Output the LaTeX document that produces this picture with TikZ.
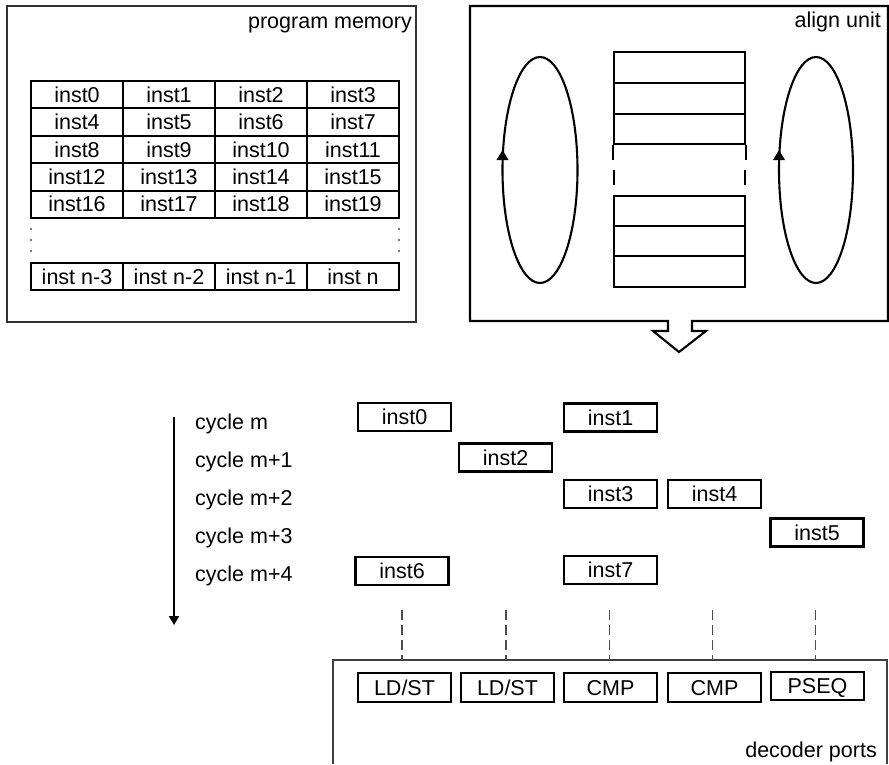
\documentclass[tikz,border=0pt]{standalone}
\usepackage{fontspec}
\setmainfont{Liberation Sans}
\usetikzlibrary{arrows.meta}
\begin{document}
\begin{tikzpicture}[x=1pt,y=-1pt,
  font=\fontsize{21.5}{25}\selectfont,
  cell/.style={draw, line width=2.1pt, minimum width=92pt, minimum height=27.4pt,
    inner sep=0pt, text height=15.3pt, text depth=0pt},
  ibox/.style={draw, line width=2.5pt, minimum width=93pt, minimum height=28pt,
    inner sep=0pt, text height=15.3pt, text depth=0pt},
  stackcell/.style={draw, line width=2.1pt, minimum width=131pt, inner sep=0pt},
  frame/.style={draw=black!80, line width=1.8pt},
  lbl/.style={inner sep=0pt, text depth=0pt},
  port/.style={dashed, dash pattern=on 10pt off 5pt, draw=black!70, line width=1.7pt},
  loop/.style={line width=2.1pt}
]
\useasboundingbox (0,0) rectangle (889,764);

% ---------- program memory ----------
\node[frame, minimum width=409pt, minimum height=316pt, inner sep=0pt] (pm) at (211.5,164) {};
\node[lbl, anchor=base east] (pmlabel) at (412,28) {program memory};
\foreach \r in {0,...,4}{
  \foreach \c in {0,...,3}{
    \pgfmathtruncatemacro\k{4*\r+\c}
    \node[cell] (m\k) at ({77+92*\c},{94.7+27.4*\r}) {inst\k};
  }
}
\node[cell] (mn3) at (77,276.5) {inst n-3};
\node[cell] (mn2) at (169,276.5) {inst n-2};
\node[cell] (mn1) at (261,276.5) {inst n-1};
\node[cell] (mn0) at (353,276.5) {inst n};
\foreach \yy in {229,240,251}{
  \fill[black!70] (31,\yy) circle (1.1pt);
  \fill[black!70] (399,\yy) circle (1.1pt);
}

% ---------- align unit ----------
\draw[line width=2.1pt, line join=miter]
  (692,321) -- (888,321) -- (888,6) -- (470,6) -- (470,321) -- (668,321)
  -- (668,331) -- (653,331) -- (679,352) -- (706,331) -- (692,331) -- cycle;
\node[lbl, anchor=base east] (aulabel) at (881,27) {align unit};

\node[stackcell, minimum height=31pt] (s1) at (679.5,67.5) {};
\node[stackcell, minimum height=31pt] (s2) at (679.5,98.5) {};
\node[stackcell, minimum height=30pt] (s3) at (679.5,129) {};
\node[stackcell, minimum height=30pt] (s4) at (679.5,211) {};
\node[stackcell, minimum height=30pt] (s5) at (679.5,241) {};
\node[stackcell, minimum height=31pt] (s6) at (679.5,271.5) {};
\draw[line width=2.1pt] (s3.south west) -- ++(0,15) (s3.south east) -- ++(0,15);
\draw[line width=2.1pt] (614,170) -- (614,185) (745,170) -- (745,185);

\draw[loop] (540,170) ellipse [x radius=37.5, y radius=113];
\draw[loop] (816,170) ellipse [x radius=37, y radius=113];
\fill (502.5,150) -- (496.5,160) -- (508.5,160) -- cycle;
\fill (779,150) -- (773,160) -- (785,160) -- cycle;

% ---------- cycles ----------
\coordinate (ctop) at (174,417);
\coordinate (cbot) at (174,625);
\draw[line width=1.7pt, -{Triangle[width=10pt,length=9pt]}] (ctop) -- (cbot);

\node[lbl, anchor=base west] (c0) at (195,429) {cycle m};
\node[lbl, anchor=base west] (c1) at (195,467) {cycle m+1};
\node[lbl, anchor=base west] (c2) at (195,505) {cycle m+2};
\node[lbl, anchor=base west] (c3) at (195,543) {cycle m+3};
\node[lbl, anchor=base west] (c4) at (195,581) {cycle m+4};

\node[ibox] (i0) at (404.5,417) {inst0};
\node[ibox] (i1) at (610.5,417.5) {inst1};
\node[ibox] (i2) at (505.5,457.5) {inst2};
\node[ibox] (i3) at (610.5,494) {inst3};
\node[ibox] (i4) at (714.5,494) {inst4};
\node[ibox] (i5) at (817,532.5) {inst5};
\node[ibox] (i6) at (402,571) {inst6};
\node[ibox] (i7) at (610.5,570) {inst7};

% ---------- decoder ports ----------
\draw[draw=black!75, line width=1.5pt] (333,764) -- (333,660) -- (887,660) -- (887,764);
\node[lbl, anchor=base east] (dplabel) at (877,757) {decoder ports};

\node[ibox, minimum height=29pt] (p1) at (404.5,687.5) {LD/ST};
\node[ibox, minimum height=29pt] (p2) at (507.5,687.5) {LD/ST};
\node[ibox, minimum height=29pt] (p3) at (610.5,687.5) {CMP};
\node[ibox, minimum height=29pt] (p4) at (714.5,687.5) {CMP};
\node[ibox, minimum height=28pt] (p5) at (817.5,686) {PSEQ};

\foreach \n/\xx in {1/402,2/506,3/609.5,4/712.5,5/815.5}{
  \coordinate (dt\n) at (\xx,610);
  \coordinate (db\n) at (\xx,660);
  \draw[port] (dt\n) -- (db\n);
}
\end{tikzpicture}
\end{document}
